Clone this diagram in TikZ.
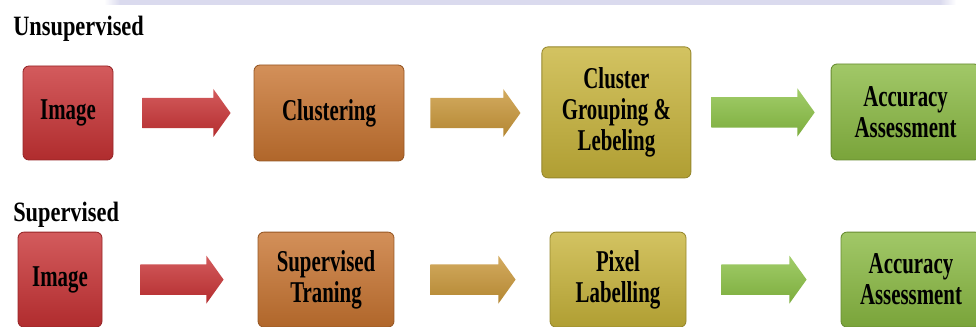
\documentclass[tikz,border=0pt]{standalone}
\usepackage{fontspec}
\setmainfont{Liberation Serif}
\newfontfamily\boxfont{Liberation Serif}[FakeStretch=0.69]
\newfontfamily\lblfont{Liberation Serif}[FakeStretch=0.8]
\usetikzlibrary{calc}

\tikzset{
  stage/.style={rounded corners=0.15cm, inner sep=0pt, align=center, line width=0.6pt,
    top color=#1!80!white, middle color=#1, bottom color=#1!88!black, draw=#1!75!black,
    font=\boxfont\bfseries\fontsize{21.5pt}{22pt}\selectfont},
  title/.style={anchor=base west, inner sep=0pt,
    font=\lblfont\bfseries\fontsize{19.9pt}{22pt}\selectfont}
}

\begin{document}
\begin{tikzpicture}[scale=1]
    \definecolor{c1}{RGB}{200,50,52}
    \definecolor{c2}{RGB}{200,116,48}
    \definecolor{c3}{RGB}{200,180,58}
    \definecolor{c4}{RGB}{138,186,66}
    \definecolor{c5}{RGB}{200,150,56}
    \definecolor{c6}{RGB}{138,192,68}
    \definecolor{band}{RGB}{218,218,238}

    \useasboundingbox (0,0) rectangle (24.4,-8.175);

    % strip along the top edge
    \shade[left color=white, right color=band] (2.6,0) rectangle (3.0,-0.125);
    \fill[band] (3.0,0) rectangle (23.5,-0.125);
    \shade[left color=band, right color=white] (23.5,0) rectangle (23.9,-0.125);

    \node[title] (unsup) at (0.325,-0.9) {Unsupervised};
    \node[title] (sup) at (0.325,-5.525) {Supervised};

    %% first row
    \node[stage=c1, minimum width=2.25cm, minimum height=2.35cm] (img1) at (1.7,-2.825) {Image};
    \node[stage=c2, minimum width=3.75cm, minimum height=2.4cm] (clu) at (8.225,-2.825) {Clustering};
    \node[stage=c3, minimum width=3.725cm, minimum height=3.275cm] (grp) at (15.41,-2.81) {Cluster\\Grouping \&\\Lebeling};
    \node[stage=c4, minimum width=3.725cm, minimum height=2.4cm] (acc1) at (22.64,-2.8) {Accuracy\\Assessment};

    %% second row
    \node[stage=c1, minimum width=2.1cm, minimum height=2.375cm] (img2) at (1.5,-6.99) {Image};
    \node[stage=c2, minimum width=3.4cm, minimum height=2.375cm] (trn) at (8.15,-6.99) {Supervised\\Traning};
    \node[stage=c3, minimum width=3.4cm, minimum height=2.375cm] (pix) at (15.45,-6.99) {Pixel\\Labelling};
    \node[stage=c4, minimum width=3.5cm, minimum height=2.375cm] (acc2) at (22.775,-6.99) {Accuracy\\Assessment};

    \foreach \a/\b/\ga/\gb/\c in {img1/clu/0.725/0.575/c1, clu/grp/0.65/0.525/c5, grp/acc1/0.5/0.4/c6,
                                  img2/trn/0.95/0.85/c1, trn/pix/0.9/0.85/c5, pix/acc2/0.875/0.85/c6}
      \shade[top color=\c!80!white, middle color=\c, bottom color=\c!90!black]
        let \p1=($(\a.east)+(\ga,0)$), \p2=($(\b.west)-(\gb,0)$) in
        (\x1,\y1+0.38cm) -- (\x2-0.43cm,\y1+0.38cm) -- (\x2-0.43cm,\y1+0.6cm) -- (\x2,\y1)
        -- (\x2-0.43cm,\y1-0.6cm) -- (\x2-0.43cm,\y1-0.38cm) -- (\x1,\y1-0.38cm) -- cycle;

\end{tikzpicture}
\end{document}
